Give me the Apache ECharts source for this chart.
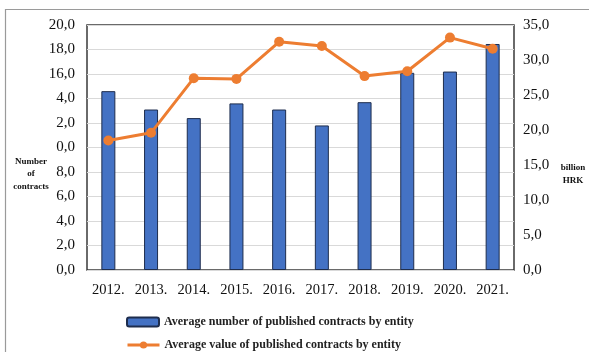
<!DOCTYPE html>
<html>
<head>
<meta charset="utf-8">
<script src="https://cdn.jsdelivr.net/npm/echarts@6/dist/echarts.min.js"></script>
<style>
  html, body { margin: 0; padding: 0; background: #ffffff; }
  #chart { width: 589px; height: 352px; }
</style>
</head>
<body>
<div id="chart"></div>
<script>
// Years on the category axis
const years = ['2012.', '2013.', '2014.', '2015.', '2016.', '2017.', '2018.', '2019.', '2020.', '2021.'];
// Average number of published contracts by entity (left axis)
const contractCounts = [14.6, 13.1, 12.4, 13.6, 13.1, 11.8, 13.7, 16.1, 16.2, 18.45];
// Average value of published contracts by entity, billion HRK (right axis)
const contractValues = [18.5, 19.6, 27.4, 27.3, 32.6, 32.0, 27.7, 28.4, 33.2, 31.6];
// Left axis tick labels, bottom to top, as printed
const leftTickLabels = ['0,0', '2,0', '4,0', '6,0', '8,0', '0,0', '2,0', '4,0', '16,0', '18,0', '20,0'];

const countName = 'Average number of published contracts by entity';
const valueName = 'Average value of published contracts by entity';

const serif = '"Liberation Serif", "DejaVu Serif", serif';
const legendText = { fontFamily: serif, fontWeight: 'bold', fontSize: 12, color: '#222' };

const chart = echarts.init(document.getElementById('chart'), null, { renderer: 'canvas' });

chart.setOption({
  backgroundColor: '#ffffff',
  animation: false,
  grid: {
    left: 87, right: 75, top: 25, bottom: 82,
    show: true, borderColor: '#3a3a3a', borderWidth: 1.5, backgroundColor: 'transparent'
  },
  legend: [
    {
      left: 121, top: 311,
      itemWidth: 32, itemHeight: 9,
      textStyle: legendText,
      data: [countName]
    },
    {
      left: 121, top: 334,
      itemWidth: 32, itemHeight: 9,
      textStyle: legendText,
      lineStyle: { width: 3 },
      data: [valueName]
    }
  ],
  xAxis: {
    type: 'category',
    data: years,
    axisLine: { show: false },
    axisTick: { show: false },
    axisLabel: { fontFamily: serif, fontSize: 14.5, color: '#111', margin: 13 }
  },
  yAxis: [
    {
      type: 'value', min: 0, max: 20, interval: 2,
      axisLine: { show: false }, axisTick: { show: false },
      splitLine: { lineStyle: { color: '#d9d9d9', width: 1 } },
      axisLabel: {
        fontFamily: serif, fontSize: 15, color: '#111', margin: 12,
        formatter: v => leftTickLabels[Math.round(v / 2)]
      }
    },
    {
      type: 'value', min: 0, max: 35, interval: 5,
      axisLine: { show: false }, axisTick: { show: false },
      splitLine: { show: false },
      axisLabel: {
        fontFamily: serif, fontSize: 15, color: '#111', margin: 9,
        formatter: v => v.toFixed(1).replace('.', ',')
      }
    }
  ],
  series: [
    {
      name: countName,
      type: 'bar',
      yAxisIndex: 0,
      data: contractCounts,
      barWidth: 14,
      itemStyle: { color: '#4472c4', borderColor: '#1e2d4d', borderWidth: 1 }
    },
    {
      name: valueName,
      type: 'line',
      yAxisIndex: 1,
      data: contractValues,
      symbol: 'circle', symbolSize: 10,
      lineStyle: { color: '#ed7d31', width: 3 },
      itemStyle: { color: '#ed7d31' }
    }
  ],
  graphic: [
    {
      type: 'rect', silent: true, z: -1,
      shape: { x: 5.5, y: 9.5, width: 700, height: 400 },
      style: { fill: 'none', stroke: '#9a9a9a', lineWidth: 1.2 }
    },
    {
      type: 'text', silent: true,
      x: 31, y: 155,
      style: {
        text: 'Number\nof\ncontracts',
        textAlign: 'center', textVerticalAlign: 'top',
        font: 'bold 9px ' + serif, fill: '#111', lineHeight: 12.5
      }
    },
    {
      type: 'text', silent: true,
      x: 573, y: 161,
      style: {
        text: 'billion\nHRK',
        textAlign: 'center', textVerticalAlign: 'top',
        font: 'bold 9px ' + serif, fill: '#111', lineHeight: 13
      }
    }
  ]
});
</script>
</body>
</html>
